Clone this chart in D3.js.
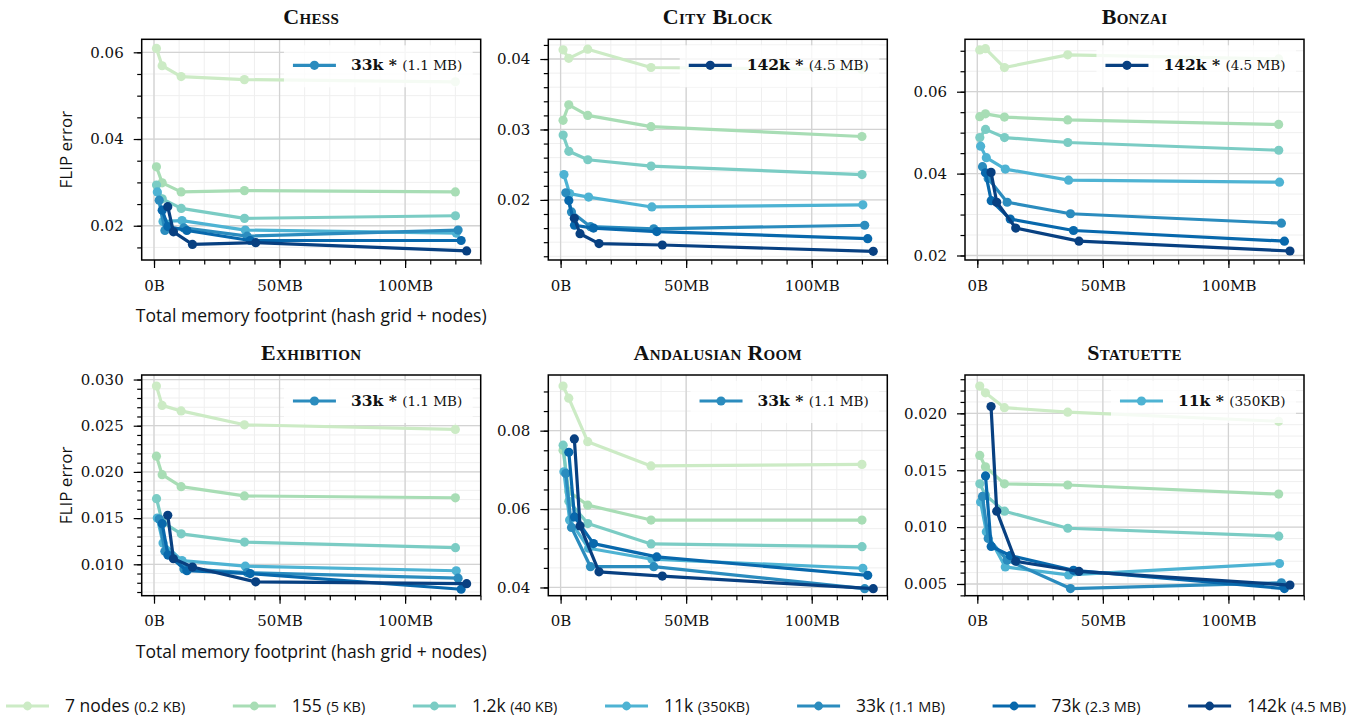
<!DOCTYPE html>
<html>
<head>
<meta charset="utf-8">
<script src="https://cdn.jsdelivr.net/npm/d3@7"></script>
<style>
  body { margin: 0; background: #fff; }
  svg { display: block; }
</style>
</head>
<body>
<svg id="fig" width="1367" height="721"></svg>
<script>
// ---- Network configurations (series) ----
const seriesNames = ["7 nodes", "155", "1.2k", "11k", "33k", "73k", "142k"];
const seriesMemory = ["(0.2 KB)", "(5 KB)", "(40 KB)", "(350KB)", "(1.1 MB)", "(2.3 MB)", "(4.5 MB)"];
const networkMemoryMB = [0.0002, 0.005, 0.04, 0.35, 1.1, 2.3, 4.5];
const seriesColors = ["#ccebc5", "#a8ddb5", "#7bccc4", "#4eb3d3", "#2b8cbe", "#0868ac", "#084081"];

// Hash grid sizes (MB); total footprint = hash grid + network nodes
const hashGridMB = [0.97, 3.24, 10.8, 36, 120];

// ---- Scenes ----
const sceneNames = ["Chess", "City Block", "Bonzai", "Exhibition", "Andalusian Room", "Statuette"];

// FLIP error per network (rows) and hash grid size (columns)
const chessError = [
  [0.0609, 0.0569, 0.0544, 0.0537, 0.0532],
  [0.0336, 0.0299, 0.0278, 0.0281, 0.0278],
  [0.0294, 0.0262, 0.0240, 0.0217, 0.0223],
  [0.0278, 0.0210, 0.0212, 0.0190, 0.0183],
  [0.0259, 0.0189, 0.0195, 0.0176, 0.0190],
  [0.0236, 0.0198, 0.0189, 0.0166, 0.0166],
  [0.0244, 0.0186, 0.0157, 0.0161, 0.0142]
];
const cityBlockError = [
  [0.0413, 0.0401, 0.0414, 0.0388, 0.0385],
  [0.0313, 0.0335, 0.0320, 0.0304, 0.0290],
  [0.0292, 0.0269, 0.0257, 0.0248, 0.0236],
  [0.0236, 0.0209, 0.0204, 0.0190, 0.0193],
  [0.0210, 0.0183, 0.0162, 0.0159, 0.0164],
  [0.0199, 0.0164, 0.0160, 0.0155, 0.0145],
  [0.0174, 0.0152, 0.0138, 0.0136, 0.0127]
];
const bonzaiError = [
  [0.0702, 0.0705, 0.0659, 0.0690, 0.0680],
  [0.0539, 0.0546, 0.0538, 0.0531, 0.0520],
  [0.0488, 0.0508, 0.0488, 0.0476, 0.0457],
  [0.0467, 0.0439, 0.0411, 0.0384, 0.0379],
  [0.0417, 0.0388, 0.0330, 0.0302, 0.0279],
  [0.0402, 0.0334, 0.0289, 0.0261, 0.0235],
  [0.0403, 0.0330, 0.0267, 0.0235, 0.0211]
];
const exhibitionError = [
  [0.0293, 0.0272, 0.0266, 0.0251, 0.0246],
  [0.0217, 0.0197, 0.0184, 0.0174, 0.0172],
  [0.0171, 0.0146, 0.0133, 0.0124, 0.0118],
  [0.0150, 0.0123, 0.0104, 0.0098, 0.0093],
  [0.0149, 0.0114, 0.0095, 0.0091, 0.0085],
  [0.0144, 0.0110, 0.0093, 0.0090, 0.0073],
  [0.0153, 0.0106, 0.0097, 0.0081, 0.0079]
];
const andalusianError = [
  [0.0914, 0.0883, 0.0772, 0.0710, 0.0714],
  [0.0750, 0.0645, 0.0610, 0.0572, 0.0572],
  [0.0763, 0.0620, 0.0563, 0.0511, 0.0504],
  [0.0695, 0.0572, 0.0500, 0.0472, 0.0449],
  [0.0691, 0.0553, 0.0453, 0.0453, 0.0397],
  [0.0745, 0.0580, 0.0512, 0.0478, 0.0431],
  [0.0779, 0.0557, 0.0440, 0.0429, 0.0397]
];
const statuetteError = [
  [0.0224, 0.0218, 0.0205, 0.0201, 0.0193],
  [0.0163, 0.0153, 0.0138, 0.0137, 0.0129],
  [0.0138, 0.0128, 0.0114, 0.0099, 0.0092],
  [0.0122, 0.0096, 0.0065, 0.0058, 0.0068],
  [0.0127, 0.0090, 0.0071, 0.0046, 0.0051],
  [0.0145, 0.0083, 0.0075, 0.0062, 0.0046],
  [0.0206, 0.0114, 0.0070, 0.0061, 0.0049]
];
const sceneErrors = [chessError, cityBlockError, bonzaiError, exhibitionError, andalusianError, statuetteError];

// Best configuration per scene (index into seriesNames)
const bestSeries = [4, 6, 6, 4, 4, 3];

// Axis limits and tick steps
const xLimits = [-4.9, 130.1];
const xMajorTicks = [0, 50, 100];
const xTickLabels = ["0B", "50MB", "100MB"];
const xMinorStep = 10;
const yLimits = [
  [0.0121, 0.0630], [0.01147, 0.0428], [0.0189, 0.0728],
  [0.0066, 0.03049], [0.0379, 0.0942], [0.00397, 0.02337]
];
const yMajorStep = [0.02, 0.01, 0.02, 0.005, 0.02, 0.005];
const yMinorStep = [0.005, 0.002, 0.005, 0.001, 0.005, 0.001];
const yDecimals = [2, 2, 2, 3, 2, 3];

// ---- Layout ----
const svg = d3.select("#fig");
const colLeft = [141.7, 548.3, 965];
const rowTop = [39.3, 375];
const W = 339, H = 220.7;
const serif = "'DejaVu Serif', serif";
const titleFont = "'Liberation Serif', serif";
const sans = "'Open Sans', 'DejaVu Sans', sans-serif";

function stepValues(lo, hi, step) {
  const out = [];
  const k0 = Math.ceil(lo / step - 1e-7), k1 = Math.floor(hi / step + 1e-7);
  for (let k = k0; k <= k1; k++) out.push(+(k * step).toFixed(6));
  return out;
}

sceneNames.forEach((name, i) => {
  const col = i % 3, row = Math.floor(i / 3);
  const g = svg.append("g").attr("transform", `translate(${colLeft[col]},${rowTop[row]})`);
  const x = d3.scaleLinear().domain(xLimits).range([0, W]);
  const y = d3.scaleLinear().domain(yLimits[i]).range([H, 0]);

  const xMinor = stepValues(xLimits[0], xLimits[1], xMinorStep);
  const yMajor = stepValues(yLimits[i][0], yLimits[i][1], yMajorStep[i]);
  const yMinor = stepValues(yLimits[i][0], yLimits[i][1], yMinorStep[i]);

  // grid: minor then major
  const grid = g.append("g");
  grid.selectAll(".xm").data(xMinor).join("line")
    .attr("x1", d => x(d)).attr("x2", d => x(d)).attr("y1", 0).attr("y2", H)
    .attr("stroke", "#efefef").attr("stroke-width", 1);
  grid.selectAll(".ym").data(yMinor).join("line")
    .attr("y1", d => y(d)).attr("y2", d => y(d)).attr("x1", 0).attr("x2", W)
    .attr("stroke", "#efefef").attr("stroke-width", 1);
  grid.selectAll(".xM").data(xMajorTicks).join("line")
    .attr("x1", d => x(d)).attr("x2", d => x(d)).attr("y1", 0).attr("y2", H)
    .attr("stroke", "#d3d3d3").attr("stroke-width", 1.3);
  grid.selectAll(".yM").data(yMajor).join("line")
    .attr("y1", d => y(d)).attr("y2", d => y(d)).attr("x1", 0).attr("x2", W)
    .attr("stroke", "#d3d3d3").attr("stroke-width", 1.3);

  // series
  const line = d3.line().x(d => x(d[0])).y(d => y(d[1]));
  sceneErrors[i].forEach((vals, s) => {
    const pts = vals.map((v, j) => [hashGridMB[j] + networkMemoryMB[s], v]);
    g.append("path").datum(pts).attr("d", line)
      .attr("fill", "none").attr("stroke", seriesColors[s])
      .attr("stroke-width", 3.2).attr("stroke-linejoin", "round");
    g.selectAll(null).data(pts).join("circle")
      .attr("cx", d => x(d[0])).attr("cy", d => y(d[1])).attr("r", 4.6)
      .attr("fill", seriesColors[s]);
  });

  // axes
  const yAxisMajor = d3.axisLeft(y).tickValues(yMajor).tickSize(8).tickPadding(10)
    .tickFormat(d3.format(`.${yDecimals[i]}f`));
  const yAxisMinor = d3.axisLeft(y).tickValues(yMinor).tickSize(4.5).tickFormat("");
  const xAxisMajor = d3.axisBottom(x).tickValues(xMajorTicks).tickSize(8).tickPadding(12)
    .tickFormat((d, k) => xTickLabels[k]);
  const xAxisMinor = d3.axisBottom(x).tickValues(xMinor).tickSize(4.5).tickFormat("");

  const ax = [
    g.append("g").call(yAxisMinor),
    g.append("g").call(yAxisMajor),
    g.append("g").attr("transform", `translate(0,${H})`).call(xAxisMinor),
    g.append("g").attr("transform", `translate(0,${H})`).call(xAxisMajor)
  ];
  ax.forEach(a => {
    a.select(".domain").remove();
    a.selectAll(".tick line").attr("stroke", "#000").attr("stroke-width", 1.2);
    a.selectAll(".tick text").attr("font-family", serif).attr("font-size", 15).attr("fill", "#111");
  });

  // frame
  g.append("rect").attr("x", 0).attr("y", 0).attr("width", W).attr("height", H)
    .attr("fill", "none").attr("stroke", "#000").attr("stroke-width", 1.5);

  // title
  g.append("text").attr("x", W / 2).attr("y", -15).attr("text-anchor", "middle")
    .attr("font-family", titleFont).attr("font-size", 22).attr("font-weight", "bold")
    .style("font-variant", "small-caps").style("letter-spacing", "0.3px")
    .attr("fill", "#111").text(name);

  // best-configuration legend
  const lg = g.append("g");
  const box = lg.append("rect").attr("fill", "#fff").attr("fill-opacity", 0.8);
  const s = bestSeries[i];
  const ly = 26;
  const t = lg.append("text").attr("y", ly + 5).attr("font-family", serif).attr("fill", "#111");
  t.append("tspan").attr("font-size", 15.5).attr("font-weight", "bold").text(seriesNames[s] + " * ");
  t.append("tspan").attr("font-size", 13.5).text(seriesMemory[s]);
  const tw = t.node().getComputedTextLength();
  const textEnd = W - 18.5;
  const textStart = textEnd - tw;
  t.attr("x", textStart);
  const hx1 = textStart - 15 - 43, hx2 = textStart - 15;
  lg.append("line").attr("x1", hx1).attr("x2", hx2).attr("y1", ly).attr("y2", ly)
    .attr("stroke", seriesColors[s]).attr("stroke-width", 3.2);
  lg.append("circle").attr("cx", (hx1 + hx2) / 2).attr("cy", ly).attr("r", 4.6).attr("fill", seriesColors[s]);
  box.attr("x", hx1 - 9).attr("y", ly - 20).attr("width", W - 8 - (hx1 - 9)).attr("height", 42);

  // axis labels on the left column
  if (col === 0) {
    g.append("text").attr("transform", `translate(-70,${H / 2}) rotate(-90)`)
      .attr("text-anchor", "middle").attr("font-family", sans).attr("font-size", 17)
      .attr("fill", "#111").text("FLIP error");
    g.append("text").attr("x", W / 2).attr("y", H + 62).attr("text-anchor", "middle")
      .attr("font-family", sans).attr("font-size", 17.5).attr("fill", "#111")
      .text("Total memory footprint (hash grid + nodes)");
  }
});

// ---- Shared legend ----
const legend = svg.append("g");
const entries = seriesNames.map((n, s) => {
  const eg = legend.append("g");
  eg.append("line").attr("x1", 0).attr("x2", 43).attr("y1", 0).attr("y2", 0)
    .attr("stroke", seriesColors[s]).attr("stroke-width", 3.2);
  eg.append("circle").attr("cx", 21.5).attr("cy", 0).attr("r", 4.4).attr("fill", seriesColors[s]);
  const t = eg.append("text").attr("x", 59).attr("y", 6).attr("font-family", sans).attr("fill", "#111");
  t.append("tspan").attr("font-size", 17.5).text(n + " ");
  t.append("tspan").attr("font-size", 14.5).text(seriesMemory[s]);
  return { eg, w: 59 + t.node().getComputedTextLength() };
});
const legendLeft = 6, legendRight = 1346;
const used = d3.sum(entries, e => e.w);
const gap = (legendRight - legendLeft - used) / (entries.length - 1);
let cursor = legendLeft;
entries.forEach(e => {
  e.eg.attr("transform", `translate(${cursor},706)`);
  cursor += e.w + gap;
});
</script>
</body>
</html>
